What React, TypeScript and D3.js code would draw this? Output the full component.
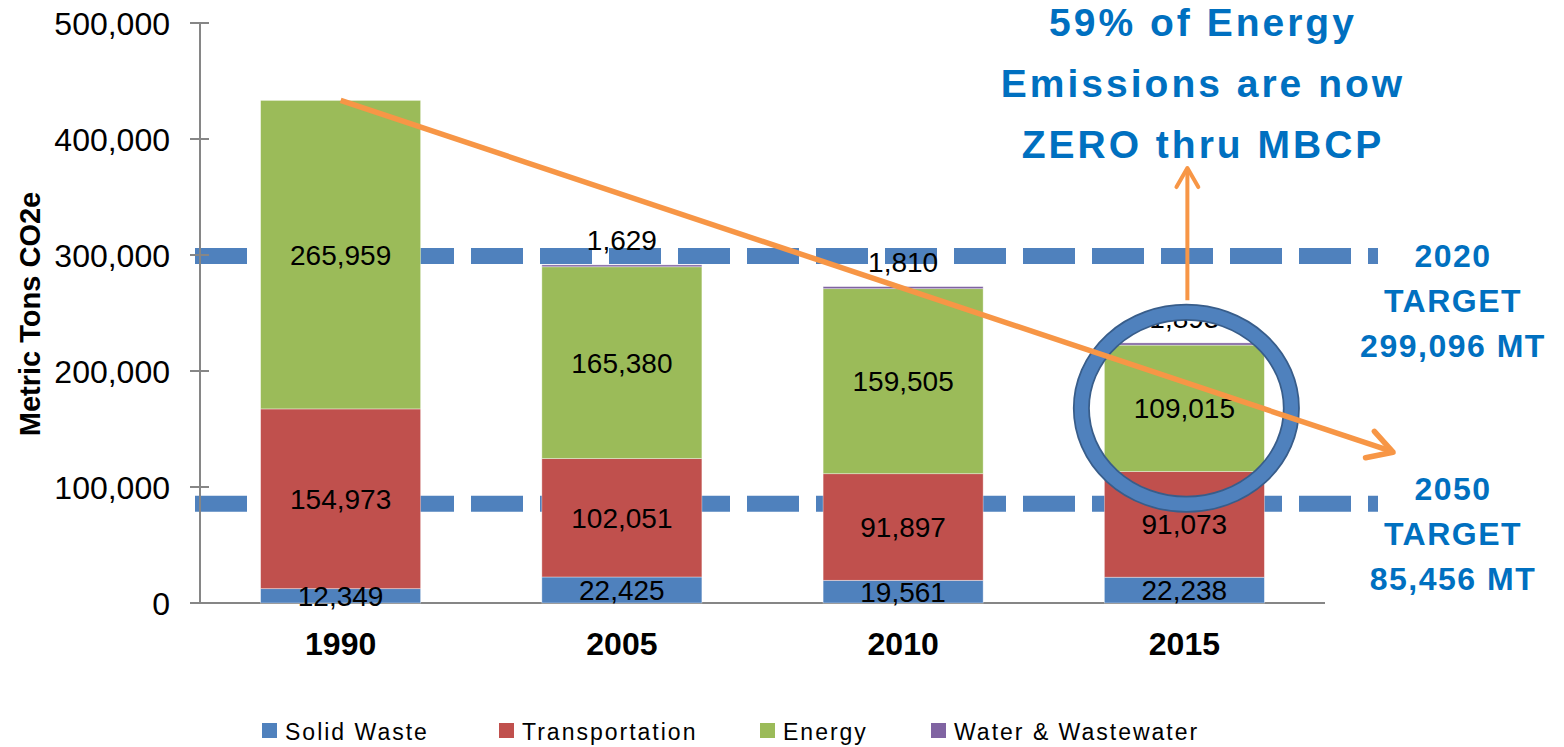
import * as d3 from "d3";
import { useEffect, useRef } from "react";

const years = ["1990", "2005", "2010", "2015"];
const seriesNames = ["Solid Waste", "Transportation", "Energy", "Water & Wastewater"];
const seriesColors = ["#4f81bd", "#c0504d", "#9bbb59", "#8064a2"];

const solidWaste = [12349, 22425, 19561, 22238];
const transportation = [154973, 102051, 91897, 91073];
const energy = [265959, 165380, 159505, 109015];
const waterWastewater = [0, 1629, 1810, 1893];

const yTicks = [0, 100000, 200000, 300000, 400000, 500000];

const targetYears = ["2020", "2050"];
const targetValues = [299096, 85456];

const calloutLines = ["59% of Energy", "Emissions are now", "ZERO thru MBCP"];
// end point of the downward trend arrow, in tons
const trendEndValue = 130000;

const W = 1564;
const H = 747;

export default function App() {
  const ref = useRef<SVGSVGElement>(null);

  useEffect(() => {
    const svg = d3.select(ref.current);
    svg.selectAll("*").remove();
    svg.attr("width", W).attr("height", H);

    const font = "'Liberation Sans', Arial, sans-serif";
    const blueText = "#0070c0";
    const orange = "#f79646";

    const x = d3.scaleBand<string>()
      .domain(years)
      .range([200, 1325])
      .paddingInner(0.431)
      .paddingOuter(0.2155);

    const y = d3.scaleLinear().domain([0, 500000]).range([603, 23]);

    const rows = years.map((yr, i) => ({
      year: yr,
      "Solid Waste": solidWaste[i],
      "Transportation": transportation[i],
      "Energy": energy[i],
      "Water & Wastewater": waterWastewater[i],
    }));

    const stack = d3.stack<any>().keys(seriesNames);
    const layers = stack(rows);

    /* ---- target dashed lines (behind bars) ---- */
    const [x0, x1] = x.range();
    svg.append("g")
      .selectAll("line")
      .data(targetValues)
      .enter()
      .append("line")
      .attr("x1", x0 - 5)
      .attr("x2", x1 + 53)
      .attr("y1", d => y(d))
      .attr("y2", d => y(d))
      .attr("stroke", "#4f81bd")
      .attr("stroke-width", 16)
      .attr("stroke-dasharray", "52,17");

    /* ---- axes ---- */
    const axis = svg.append("g").attr("transform", `translate(${x0},0)`);
    axis.append("line")
      .attr("x1", 0).attr("x2", 0)
      .attr("y1", y(500000)).attr("y2", y(0))
      .attr("stroke", "#868686").attr("stroke-width", 2);
    axis.selectAll("line.tick")
      .data(yTicks)
      .enter()
      .append("line")
      .attr("class", "tick")
      .attr("x1", -10).attr("x2", 9)
      .attr("y1", d => y(d)).attr("y2", d => y(d))
      .attr("stroke", "#868686").attr("stroke-width", 2);
    axis.selectAll("text")
      .data(yTicks)
      .enter()
      .append("text")
      .attr("x", -30)
      .attr("y", d => y(d))
      .attr("dy", "0.36em")
      .attr("text-anchor", "end")
      .attr("font-family", font)
      .attr("font-size", 32)
      .attr("fill", "#000")
      .text(d => d3.format(",")(d));

    svg.append("line")
      .attr("x1", x0).attr("x2", x1)
      .attr("y1", y(0)).attr("y2", y(0))
      .attr("stroke", "#868686").attr("stroke-width", 2);

    svg.append("text")
      .attr("transform", `translate(40,${(y(0) + y(500000)) / 2 + 1}) rotate(-90)`)
      .attr("text-anchor", "middle")
      .attr("font-family", font)
      .attr("font-weight", "bold")
      .attr("font-size", 29)
      .text("Metric Tons CO2e");

    svg.selectAll("text.year")
      .data(years)
      .enter()
      .append("text")
      .attr("class", "year")
      .attr("x", d => x(d)! + x.bandwidth() / 2)
      .attr("y", 655)
      .attr("text-anchor", "middle")
      .attr("font-family", font)
      .attr("font-weight", "bold")
      .attr("font-size", 32)
      .text(d => d);

    /* ---- stacked bars ---- */
    const layerG = svg.append("g")
      .selectAll("g")
      .data(layers)
      .enter()
      .append("g")
      .attr("fill", (_, i) => seriesColors[i]);

    layerG.selectAll("rect")
      .data(d => d)
      .enter()
      .append("rect")
      .attr("x", d => x(d.data.year)!)
      .attr("width", x.bandwidth())
      .attr("y", d => y(d[1]))
      .attr("height", d => Math.max(0, y(d[0]) - y(d[1])))
      .attr("stroke", "#ffffff")
      .attr("stroke-opacity", 0.5)
      .attr("stroke-width", 0.75);

    /* ---- data labels ---- */
    const fmt = d3.format(",");
    layers.forEach((layer, li) => {
      const isTop = li === layers.length - 1;
      svg.append("g")
        .selectAll("text")
        .data(layer.filter(d => d[1] - d[0] > 0))
        .enter()
        .append("text")
        .attr("x", d => x(d.data.year)! + x.bandwidth() / 2)
        .attr("y", d => (isTop ? y(d[1]) - 15 : y((d[0] + d[1]) / 2)))
        .attr("dy", isTop ? "0" : "0.36em")
        .attr("text-anchor", "middle")
        .attr("font-family", font)
        .attr("font-size", 28)
        .attr("fill", "#000")
        .text(d => fmt(d[1] - d[0]));
    });

    /* ---- highlight ring around 2015 energy ---- */
    const last = years[years.length - 1];
    const energyLayer = layers[2];
    const e15 = energyLayer[energyLayer.length - 1];
    const cx = x(last)! + x.bandwidth() / 2 + 2;
    const cy = y((e15[0] + e15[1]) / 2);
    const rx = 105;
    const ry = 96;
    svg.append("ellipse")
      .attr("cx", cx).attr("cy", cy).attr("rx", rx).attr("ry", ry)
      .attr("fill", "none").attr("stroke", "#385d8a").attr("stroke-width", 17);
    svg.append("ellipse")
      .attr("cx", cx).attr("cy", cy).attr("rx", rx).attr("ry", ry)
      .attr("fill", "none").attr("stroke", "#4f81bd").attr("stroke-width", 13.5);

    /* ---- trend arrow ---- */
    const first = years[0];
    const tx0 = x(first)! + x.bandwidth() / 2;
    const ty0 = y(d3.sum([solidWaste[0], transportation[0], energy[0], waterWastewater[0]]));
    const tx1 = x1 + 68;
    const ty1 = y(trendEndValue);
    const ang = Math.atan2(ty1 - ty0, tx1 - tx0);
    const head = (px: number, py: number, a: number, len: number) => {
      const back = a + Math.PI;
      return [
        [px + Math.cos(back - 0.52) * len, py + Math.sin(back - 0.52) * len],
        [px, py],
        [px + Math.cos(back + 0.52) * len, py + Math.sin(back + 0.52) * len],
      ] as [number, number][];
    };
    const lineGen = d3.line();
    svg.append("line")
      .attr("x1", tx0).attr("y1", ty0).attr("x2", tx1 - 2).attr("y2", ty1 - 1)
      .attr("stroke", orange).attr("stroke-width", 5.5);
    svg.append("path")
      .attr("d", lineGen(head(tx1, ty1, ang, 28)))
      .attr("fill", "none").attr("stroke", orange).attr("stroke-width", 5.5)
      .attr("stroke-linecap", "round").attr("stroke-linejoin", "round");

    /* ---- vertical arrow to callout ---- */
    const vx = cx + 1;
    const vTop = 168;
    const vBottom = cy - ry - 12;
    svg.append("line")
      .attr("x1", vx).attr("x2", vx).attr("y1", vBottom).attr("y2", vTop + 2)
      .attr("stroke", orange).attr("stroke-width", 4);
    svg.append("path")
      .attr("d", lineGen(head(vx, vTop, -Math.PI / 2, 22)))
      .attr("fill", "none").attr("stroke", orange).attr("stroke-width", 4)
      .attr("stroke-linecap", "round").attr("stroke-linejoin", "round");

    /* ---- callout text ---- */
    svg.append("g")
      .selectAll("text")
      .data(calloutLines)
      .enter()
      .append("text")
      .attr("x", 1203)
      .attr("y", (_, i) => 36 + i * 61)
      .attr("text-anchor", "middle")
      .attr("font-family", font)
      .attr("font-weight", "bold")
      .attr("font-size", 39)
      .attr("letter-spacing", 3)
      .attr("fill", blueText)
      .text(d => d);

    /* ---- target labels ---- */
    targetValues.forEach((v, i) => {
      const lines = [targetYears[i], "TARGET", `${fmt(v)} MT`];
      svg.append("g")
        .selectAll("text")
        .data(lines)
        .enter()
        .append("text")
        .attr("x", 1453)
        .attr("y", (_, j) => y(v) + 2 + (i === 0 ? 9 : -6) + j * 45)
        .attr("text-anchor", "middle")
        .attr("font-family", font)
        .attr("font-weight", "bold")
        .attr("font-size", 32)
        .attr("letter-spacing", 1.5)
        .attr("fill", blueText)
        .text(d => d);
    });

    /* ---- legend ---- */
    const legendX = [262, 499, 760, 931];
    const leg = svg.append("g")
      .selectAll("g")
      .data(seriesNames)
      .enter()
      .append("g")
      .attr("transform", (_, i) => `translate(${legendX[i]},723)`);
    leg.append("rect")
      .attr("width", 15).attr("height", 15)
      .attr("fill", (_, i) => seriesColors[i]);
    leg.append("text")
      .attr("x", 23)
      .attr("y", 17)
      .attr("font-family", font)
      .attr("font-size", 23)
      .attr("letter-spacing", 2)
      .attr("fill", "#000")
      .text(d => d);
  }, []);

  return (
    <div style={{ position: "absolute", left: 0, top: 0, background: "#fff" }}>
      <svg ref={ref} style={{ display: "block" }} />
    </div>
  );
}
